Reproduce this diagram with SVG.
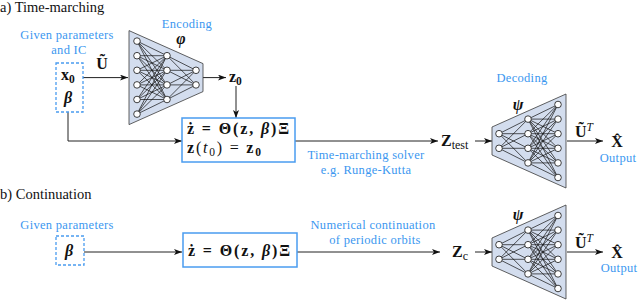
<svg xmlns="http://www.w3.org/2000/svg" xmlns:xlink="http://www.w3.org/1999/xlink" width="640" height="300" viewBox="0 0 640 300">
<style>
.sec{font-family:'Liberation Serif',serif;font-size:14.5px;fill:#111}
.lbl{font-family:'Liberation Serif',serif;font-size:12.5px;letter-spacing:0.3px;fill:#3b97f0}
.m{font-family:'Liberation Serif',serif;font-size:16px;font-weight:bold;fill:#111}
.mi{font-style:italic;font-weight:bold}
.rg{font-weight:normal}
.trap{fill:#d3ddee;stroke:#3a3a3a;stroke-width:0.8}
.wire{fill:none;stroke:#111;stroke-width:0.7}
.n{fill:#fff;stroke:#111;stroke-width:0.8}
.box{fill:#fff;stroke:#4a9cf0;stroke-width:1.5}
.dash{fill:none;stroke:#4a9cf0;stroke-width:1.3;stroke-dasharray:3 2}
.con{fill:none;stroke:#222;stroke-width:1}
</style>
<defs>
<marker id="ah" viewBox="0 0 8 6" refX="8" refY="3" markerWidth="8" markerHeight="6" markerUnits="userSpaceOnUse" orient="auto">
<path d="M0,0 L8,3 L0,6 L2,3 Z" fill="#111"/>
</marker>
<g id="net">
<polygon class="trap" points="-8,-47 66,-14 66,14 -8,47"/>
<path class="wire" d="M0-36.5L30-21.9M0-36.5L30-7.3M0-36.5L30 7.3M0-36.5L30 21.9M0-21.9L30-21.9M0-21.9L30-7.3M0-21.9L30 7.3M0-21.9L30 21.9M0-7.3L30-21.9M0-7.3L30-7.3M0-7.3L30 7.3M0-7.3L30 21.9M0 7.3L30-21.9M0 7.3L30-7.3M0 7.3L30 7.3M0 7.3L30 21.9M0 21.9L30-21.9M0 21.9L30-7.3M0 21.9L30 7.3M0 21.9L30 21.9M0 36.5L30-21.9M0 36.5L30-7.3M0 36.5L30 7.3M0 36.5L30 21.9M30-21.9L59-7.3M30-21.9L59 7.3M30-7.3L59-7.3M30-7.3L59 7.3M30 7.3L59-7.3M30 7.3L59 7.3M30 21.9L59-7.3M30 21.9L59 7.3"/>
<circle class="n" cx="0" cy="-36.5" r="3.3"/><circle class="n" cx="0" cy="-21.9" r="3.3"/><circle class="n" cx="0" cy="-7.3" r="3.3"/><circle class="n" cx="0" cy="7.3" r="3.3"/><circle class="n" cx="0" cy="21.9" r="3.3"/><circle class="n" cx="0" cy="36.5" r="3.3"/>
<circle class="n" cx="30" cy="-21.9" r="3.3"/><circle class="n" cx="30" cy="-7.3" r="3.3"/><circle class="n" cx="30" cy="7.3" r="3.3"/><circle class="n" cx="30" cy="21.9" r="3.3"/>
<circle class="n" cx="59" cy="-7.3" r="3.3"/><circle class="n" cx="59" cy="7.3" r="3.3"/>
</g>
</defs>

<text class="sec" x="0" y="12">a) Time-marching</text>
<text class="sec" x="0" y="199">b) Continuation</text>

<g id="connectors">
<path class="con" d="M83 77.6H128" marker-end="url(#ah)"/>
<path class="con" d="M203 77.6H226" marker-end="url(#ah)"/>
<path class="con" d="M236 86V118" marker-end="url(#ah)"/>
<path class="con" d="M68 112V141H182" marker-end="url(#ah)"/>
<path class="con" d="M295 141H438" marker-end="url(#ah)"/>
<path class="con" d="M475 141H492" marker-end="url(#ah)"/>
<path class="con" d="M567 141H603" marker-end="url(#ah)"/>
<path class="con" d="M84 252H182" marker-end="url(#ah)"/>
<path class="con" d="M297 252H440" marker-end="url(#ah)"/>
<path class="con" d="M475 252H492" marker-end="url(#ah)"/>
<path class="con" d="M567 252H603" marker-end="url(#ah)"/>
<text class="m" x="102" y="69" text-anchor="middle">Ũ</text>
<text class="lbl" x="366" y="159" text-anchor="middle">Time-marching solver</text>
<text class="lbl" x="366" y="174" text-anchor="middle">e.g. Runge-Kutta</text>
<text class="lbl" x="373" y="229" text-anchor="middle">Numerical continuation</text>
<text class="lbl" x="375" y="244" text-anchor="middle">of periodic orbits</text>
</g>

<g id="input-a">
<text class="lbl" x="67" y="39" text-anchor="middle">Given parameters</text>
<text class="lbl" x="69" y="54" text-anchor="middle">and IC</text>
<rect class="dash" x="56" y="63" width="27" height="49"/>
<text class="m" x="61" y="80">x<tspan font-size="11.5" dy="3">0</tspan></text>
<text class="m" x="68" y="103" text-anchor="middle"><tspan class="mi">β</tspan></text>
</g>

<g id="encoder">
<text class="lbl" x="187" y="28" text-anchor="middle">Encoding</text>
<text class="m" x="181" y="44" font-size="17" text-anchor="middle"><tspan class="mi">φ</tspan></text>
<use xlink:href="#net" href="#net" transform="translate(137,77.6)"/>
</g>

<g id="z0">
<text class="m" x="229" y="82">z<tspan font-size="11.5" dy="3">0</tspan></text>
</g>

<g id="ode-a">
<rect class="box" x="182" y="118" width="113" height="44"/>
<text class="m" x="187" y="134" textLength="102" lengthAdjust="spacing">ż = Θ(z, <tspan class="mi">β</tspan>)Ξ</text>
<text class="m" x="187" y="153" textLength="74" lengthAdjust="spacing">z<tspan class="rg">(</tspan><tspan class="rg" font-style="italic">t</tspan><tspan class="rg" font-size="11.5" dy="3">0</tspan><tspan class="rg" dy="-3">) = </tspan>z<tspan font-size="11.5" dy="3">0</tspan></text>
</g>

<g id="ztest">
<text class="m" x="441" y="146" font-size="18">Z<tspan class="rg" font-size="12" dy="3">test</tspan></text>
</g>

<g id="decoder-a">
<text class="lbl" x="522" y="82" text-anchor="middle">Decoding</text>
<text class="m" x="518" y="110" font-size="17" text-anchor="middle"><tspan class="mi">ψ</tspan></text>
<use xlink:href="#net" href="#net" transform="translate(558,141) scale(-1,1)"/>
</g>

<g id="output-a">
<text class="m" x="575" y="137">Ũ<tspan class="rg" font-style="italic" font-size="11.5" dy="-6">T</tspan></text>
<text class="m" x="617" y="147" text-anchor="middle">X̂</text>
<text class="lbl" x="618" y="162" text-anchor="middle">Output</text>
</g>

<g id="input-b">
<text class="lbl" x="67" y="229" text-anchor="middle">Given parameters</text>
<rect class="dash" x="56" y="236" width="28" height="29"/>
<text class="m" x="69" y="256" text-anchor="middle"><tspan class="mi">β</tspan></text>
</g>

<g id="ode-b">
<rect class="box" x="183" y="233" width="114" height="34"/>
<text class="m" x="188" y="256" textLength="102" lengthAdjust="spacing">ż = Θ(z, <tspan class="mi">β</tspan>)Ξ</text>
</g>

<g id="zc">
<text class="m" x="452" y="257" font-size="18">Z<tspan class="rg" font-size="12" dy="3">c</tspan></text>
</g>

<g id="decoder-b">
<text class="m" x="518" y="220" font-size="17" text-anchor="middle"><tspan class="mi">ψ</tspan></text>
<use xlink:href="#net" href="#net" transform="translate(558,252) scale(-1,1)"/>
</g>

<g id="output-b">
<text class="m" x="575" y="248">Ũ<tspan class="rg" font-style="italic" font-size="11.5" dy="-6">T</tspan></text>
<text class="m" x="617" y="258" text-anchor="middle">X̂</text>
<text class="lbl" x="619" y="272" text-anchor="middle">Output</text>
</g>
</svg>
